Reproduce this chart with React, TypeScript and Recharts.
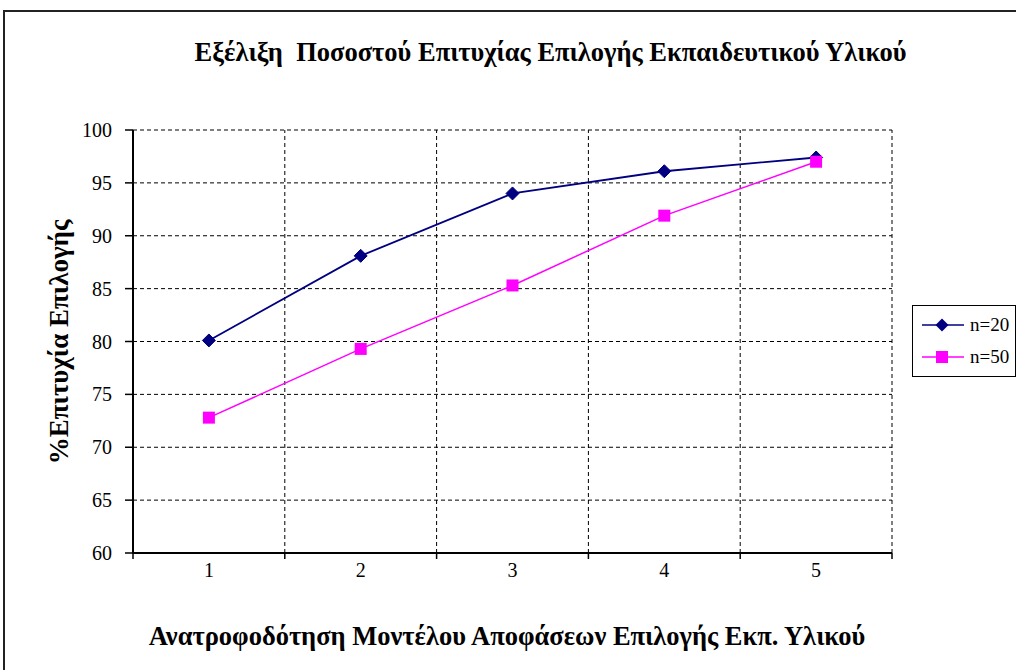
import React from "react";
import {
  LineChart,
  Line,
  XAxis,
  YAxis,
  CartesianGrid,
  ReferenceLine,
  Legend,
} from "recharts";

// Feedback rounds of the decision model (x categories)
const categories = [1, 2, 3, 4, 5];
// Success rate (%) for each sample size
const seriesN20 = [80.1, 88.1, 94.0, 96.1, 97.4];
const seriesN50 = [72.8, 79.3, 85.3, 91.9, 97.0];
// Axis ticks
const yTicks = [60, 65, 70, 75, 80, 85, 90, 95, 100];
const xTicks = [0.5, 1, 1.5, 2, 2.5, 3, 3.5, 4, 4.5, 5, 5.5];
const categoryBoundaries = [1.5, 2.5, 3.5, 4.5, 5.5];

const seriesNames = { n20: "n=20", n50: "n=50" };
const NAVY = "#000080";
const MAGENTA = "#FF00FF";
const FONT = "Liberation Serif, DejaVu Serif";

const data = categories.map((x, i) => ({
  x,
  n20: seriesN20[i],
  n50: seriesN50[i],
}));

const Diamond = (props: any) => {
  const { cx, cy } = props;
  if (cx == null || cy == null) return null;
  const r = 6.5;
  return (
    <path
      d={`M${cx},${cy - r} L${cx + r},${cy} L${cx},${cy + r} L${cx - r},${cy} Z`}
      fill={NAVY}
      stroke={NAVY}
    />
  );
};

const Square = (props: any) => {
  const { cx, cy } = props;
  if (cx == null || cy == null) return null;
  const r = 6;
  return <rect x={cx - r} y={cy - r} width={2 * r} height={2 * r} fill={MAGENTA} />;
};

// Integer ticks get a label; half ticks mark category boundaries with a short line
const XTick = (props: any) => {
  const { x, y, payload } = props;
  const v = payload.value;
  if (Number.isInteger(v)) {
    return (
      <text x={x} y={y + 18} textAnchor="middle" fontSize={20} fontFamily={FONT} fill="#000">
        {v}
      </text>
    );
  }
  return <line x1={x} y1={y - 6} x2={x} y2={y} stroke="#000" strokeWidth={1.5} />;
};

const LegendBox = (props: any) => {
  const items = props.payload || [];
  return (
    <div
      style={{
        border: "1px solid #000",
        background: "#fff",
        padding: "3px 0 3px 8px",
        fontFamily: FONT,
        fontSize: 19,
        color: "#000",
        boxSizing: "border-box",
        width: 104,
      }}
    >
      {items.map((it: any) => (
        <div key={it.value} style={{ display: "flex", alignItems: "center", height: 32 }}>
          <svg width={44} height={16} style={{ marginRight: 5 }}>
            <line x1={1} y1={8} x2={43} y2={8} stroke={it.color} strokeWidth={1.6} />
            {it.dataKey === "n20" ? (
              <path d="M21,1.5 L27.5,8 L21,14.5 L14.5,8 Z" fill={it.color} />
            ) : (
              <rect x={15} y={2} width={12} height={12} fill={it.color} />
            )}
          </svg>
          <span>{it.value}</span>
        </div>
      ))}
    </div>
  );
};

export default function App() {
  return (
    <div
      style={{
        position: "absolute",
        left: 0,
        top: 0,
        width: 1016,
        height: 670,
        overflow: "hidden",
        background: "#fff",
      }}
    >
      <div
        style={{
          position: "absolute",
          left: 3,
          top: 10,
          width: 1030,
          height: 700,
          border: "2px solid #222",
          boxSizing: "border-box",
        }}
      />
      <div
        style={{
          position: "absolute",
          left: 0,
          top: 37,
          width: 1101,
          textAlign: "center",
          fontFamily: FONT,
          fontWeight: "bold",
          fontSize: 26.5,
          lineHeight: "30px",
          color: "#000",
        }}
      >
        Εξέλιξη&nbsp; Ποσοστού Επιτυχίας Επιλογής Εκπαιδευτικού Υλικού
      </div>
      <div
        style={{
          position: "absolute",
          left: 0,
          top: 621,
          width: 1014,
          textAlign: "center",
          fontFamily: FONT,
          fontWeight: "bold",
          fontSize: 26.5,
          lineHeight: "30px",
          color: "#000",
        }}
      >
        Ανατροφοδότηση Μοντέλου Αποφάσεων Επιλογής Εκπ. Υλικού
      </div>
      <div style={{ position: "absolute", left: 0, top: 0 }}>
        <LineChart
          width={1016}
          height={670}
          data={data}
          margin={{ top: 130, right: 20, left: 73, bottom: 77 }}
        >
          <CartesianGrid
            vertical={false}
            stroke="#000"
            strokeDasharray="4 3"
            strokeWidth={1}
          />
          {categoryBoundaries.map((b) => (
            <ReferenceLine
              key={b}
              x={b}
              stroke="#000"
              strokeDasharray="4 3"
              strokeWidth={1}
            />
          ))}
          <XAxis
            dataKey="x"
            type="number"
            domain={[0.5, 5.5]}
            ticks={xTicks}
            interval={0}
            tickLine={false}
            tickSize={6}
            tickMargin={0}
            height={40}
            axisLine={{ stroke: "#000", strokeWidth: 2 }}
            tick={<XTick />}
          />
          <YAxis
            type="number"
            domain={[60, 100]}
            ticks={yTicks}
            interval={0}
            width={60}
            tickSize={8}
            tickMargin={13}
            axisLine={{ stroke: "#000", strokeWidth: 2 }}
            tickLine={{ stroke: "#000", strokeWidth: 1.5 }}
            tick={{ fontSize: 20, fontFamily: FONT, fill: "#000" }}
            label={{
              content: () => (
                <text
                  x={59}
                  y={342}
                  transform="rotate(-90 59 342)"
                  textAnchor="middle"
                  dominantBaseline="central"
                  fontSize={27}
                  fontWeight="bold"
                  fontFamily={FONT}
                  fill="#000"
                >
                  %Επιτυχία Επιλογής
                </text>
              ),
            }}
          />
          <Legend
            layout="vertical"
            align="right"
            verticalAlign="top"
            content={<LegendBox />}
            wrapperStyle={{ position: "absolute", left: 912, top: 305, width: 104 }}
          />
          <Line
            dataKey="n20"
            name={seriesNames.n20}
            stroke={NAVY}
            strokeWidth={1.8}
            dot={<Diamond />}
            activeDot={false}
            isAnimationActive={false}
          />
          <Line
            dataKey="n50"
            name={seriesNames.n50}
            stroke={MAGENTA}
            strokeWidth={1.5}
            dot={<Square />}
            activeDot={false}
            isAnimationActive={false}
          />
        </LineChart>
      </div>
    </div>
  );
}
